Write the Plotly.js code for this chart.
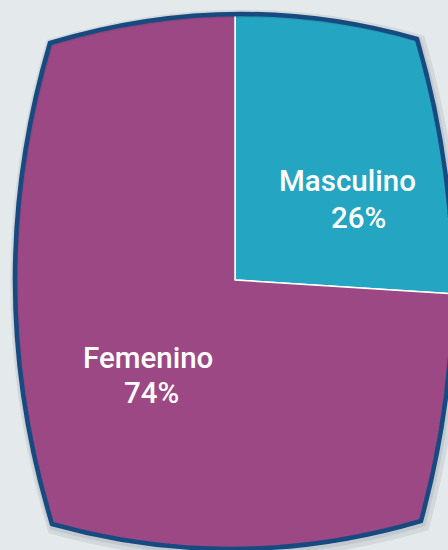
<!DOCTYPE html>
<html>
<head>
<meta charset="utf-8">
<script src="https://cdn.plot.ly/plotly-3.0.1.min.js"></script>
<style>
  html, body { margin:0; padding:0; width:448px; height:550px; overflow:hidden; background:#e4e9ec; }
  #wrap { position:relative; width:448px; height:550px; overflow:hidden; }
  #chart { position:absolute; left:-215px; top:-170px; width:900px; height:900px; }
</style>
</head>
<body>
<div id="wrap"><div id="chart"></div></div>
<script>
// Data
const labels = ["Masculino", "Femenino"];
const values = [26, 74];
const colors = ["#24a5c1", "#9b4884"];

// Geometry (pixels in the 448x550 page)
const S = 900, OX = 215, OY = 170;
const px = x => (x + OX) / S;
const py = y => 1 - (y + OY) / S;
const P = (x, y) => px(x).toFixed(5) + "," + py(y).toFixed(5);

function barrel(dx, dy, k) {
  const cx = 235, cy = 281;
  const t = (x, y) => P(cx + (x - cx) * k + dx, cy + (y - cy) * k + dy);
  return "M" + t(50, 43) + " Q" + t(235, -13) + " " + t(417, 39) +
         " Q" + t(487, 280) + " " + t(421, 521) +
         " Q" + t(236, 575.5) + " " + t(52, 524) +
         " Q" + t(-21, 283) + " " + t(50, 43) + " Z";
}

const bg = "#e4e9ec";
const shapes = [
  { type:"path", xref:"paper", yref:"paper", fillrule:"evenodd",
    path:"M0,0 L1,0 L1,1 L0,1 Z " + barrel(0, 0, 1),
    fillcolor:bg, line:{width:0} },
  { type:"path", xref:"paper", yref:"paper", path:barrel(2, 3, 1.012),
    line:{color:"rgba(60,70,80,0.10)", width:8} },
  { type:"path", xref:"paper", yref:"paper", path:barrel(1, 2, 1.006),
    line:{color:"rgba(60,70,80,0.10)", width:5} },
  { type:"path", xref:"paper", yref:"paper", path:barrel(0, 0, 1),
    line:{color:"#174a80", width:4.5} }
];

// label positions (pixel centers)
const namePos = [[347, 180.5], [147.5, 357.5]];
const pctPos = [[358, 217.5], [151.7, 392.5]];
const font = { family:"Roboto, 'Open Sans', sans-serif", size:29.5, weight:500, color:"#ffffff" };
const annotations = [];
labels.forEach((lab, i) => {
  annotations.push({ xref:"paper", yref:"paper", x:px(namePos[i][0]), y:py(namePos[i][1]),
    text:lab, showarrow:false, font:font, xanchor:"center", yanchor:"middle" });
  annotations.push({ xref:"paper", yref:"paper", x:px(pctPos[i][0]), y:py(pctPos[i][1]),
    text:values[i] + "%", showarrow:false, font:font, xanchor:"center", yanchor:"middle" });
});

const trace = {
  type:"pie", labels:labels, values:values, sort:false, direction:"clockwise", rotation:0,
  marker:{ colors:colors, line:{ color:"#ffffff", width:1.5 } },
  textinfo:"none", hoverinfo:"none", domain:{ x:[0,1], y:[0,1] }
};

Plotly.newPlot("chart", [trace], {
  width:S, height:S, margin:{l:0,r:0,t:0,b:0},
  paper_bgcolor:bg, plot_bgcolor:bg, showlegend:false,
  shapes:shapes, annotations:annotations
}, { staticPlot:true, displayModeBar:false });
</script>
</body>
</html>
